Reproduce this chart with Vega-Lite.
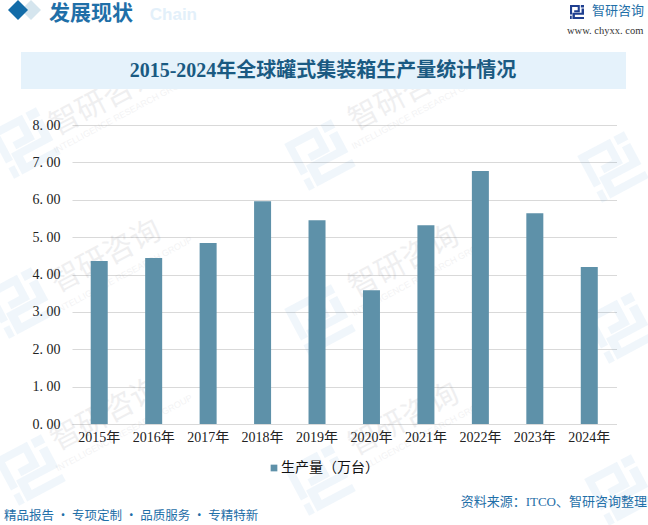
{
  "$schema": "https://vega.github.io/schema/vega-lite/v6.json",
  "width": 544.5,
  "height": 299,
  "autosize": "none",
  "padding": {"left": 72, "top": 125, "right": 31.5, "bottom": 101},
  "background": "#ffffff",
  "config": {"view": {"stroke": null}},
  "datasets": {
    "one": [{}],
    "production": [
      {"year": "2015年", "series": "生产量（万台）", "value": 4.36},
      {"year": "2016年", "series": "生产量（万台）", "value": 4.44},
      {"year": "2017年", "series": "生产量（万台）", "value": 4.84},
      {"year": "2018年", "series": "生产量（万台）", "value": 5.96},
      {"year": "2019年", "series": "生产量（万台）", "value": 5.45},
      {"year": "2020年", "series": "生产量（万台）", "value": 3.58},
      {"year": "2021年", "series": "生产量（万台）", "value": 5.32},
      {"year": "2022年", "series": "生产量（万台）", "value": 6.77},
      {"year": "2023年", "series": "生产量（万台）", "value": 5.64},
      {"year": "2024年", "series": "生产量（万台）", "value": 4.2}
    ]
  },
  "layer": [
    {"data": {"name": "one"}, "mark": {"type": "point", "filled": true, "opacity": 0.09, "color": "#5a9fd0", "size": 2800, "angle": -28, "x": -47, "y": 18, "shape": "M-1,-1H0.4V0.05H-0.4V-0.25H0.1V-0.7H-0.7V0.35H-1ZM0.55,-1H1V-0.65H0.55ZM0.65,-0.5H1V0.4H-0.3V0.7H1V1H-0.65V0.1H0.65ZM-1,0.55H-0.75V1H-1Z"}},
    {"data": {"name": "one"}, "mark": {"type": "point", "filled": true, "opacity": 0.09, "color": "#5a9fd0", "size": 2800, "angle": -28, "x": 248, "y": 30, "shape": "M-1,-1H0.4V0.05H-0.4V-0.25H0.1V-0.7H-0.7V0.35H-1ZM0.55,-1H1V-0.65H0.55ZM0.65,-0.5H1V0.4H-0.3V0.7H1V1H-0.65V0.1H0.65ZM-1,0.55H-0.75V1H-1Z"}},
    {"data": {"name": "one"}, "mark": {"type": "point", "filled": true, "opacity": 0.09, "color": "#5a9fd0", "size": 2800, "angle": -28, "x": 541, "y": 42, "shape": "M-1,-1H0.4V0.05H-0.4V-0.25H0.1V-0.7H-0.7V0.35H-1ZM0.55,-1H1V-0.65H0.55ZM0.65,-0.5H1V0.4H-0.3V0.7H1V1H-0.65V0.1H0.65ZM-1,0.55H-0.75V1H-1Z"}},
    {"data": {"name": "one"}, "mark": {"type": "point", "filled": true, "opacity": 0.09, "color": "#5a9fd0", "size": 2800, "angle": -28, "x": -52, "y": 178, "shape": "M-1,-1H0.4V0.05H-0.4V-0.25H0.1V-0.7H-0.7V0.35H-1ZM0.55,-1H1V-0.65H0.55ZM0.65,-0.5H1V0.4H-0.3V0.7H1V1H-0.65V0.1H0.65ZM-1,0.55H-0.75V1H-1Z"}},
    {"data": {"name": "one"}, "mark": {"type": "point", "filled": true, "opacity": 0.09, "color": "#5a9fd0", "size": 2800, "angle": -28, "x": 248, "y": 195, "shape": "M-1,-1H0.4V0.05H-0.4V-0.25H0.1V-0.7H-0.7V0.35H-1ZM0.55,-1H1V-0.65H0.55ZM0.65,-0.5H1V0.4H-0.3V0.7H1V1H-0.65V0.1H0.65ZM-1,0.55H-0.75V1H-1Z"}},
    {"data": {"name": "one"}, "mark": {"type": "point", "filled": true, "opacity": 0.09, "color": "#5a9fd0", "size": 2800, "angle": -28, "x": 548, "y": 203, "shape": "M-1,-1H0.4V0.05H-0.4V-0.25H0.1V-0.7H-0.7V0.35H-1ZM0.55,-1H1V-0.65H0.55ZM0.65,-0.5H1V0.4H-0.3V0.7H1V1H-0.65V0.1H0.65ZM-1,0.55H-0.75V1H-1Z"}},
    {"data": {"name": "one"}, "mark": {"type": "point", "filled": true, "opacity": 0.09, "color": "#5a9fd0", "size": 2800, "angle": -28, "x": -42, "y": 345, "shape": "M-1,-1H0.4V0.05H-0.4V-0.25H0.1V-0.7H-0.7V0.35H-1ZM0.55,-1H1V-0.65H0.55ZM0.65,-0.5H1V0.4H-0.3V0.7H1V1H-0.65V0.1H0.65ZM-1,0.55H-0.75V1H-1Z"}},
    {"data": {"name": "one"}, "mark": {"type": "point", "filled": true, "opacity": 0.09, "color": "#5a9fd0", "size": 2800, "angle": -28, "x": 248, "y": 355, "shape": "M-1,-1H0.4V0.05H-0.4V-0.25H0.1V-0.7H-0.7V0.35H-1ZM0.55,-1H1V-0.65H0.55ZM0.65,-0.5H1V0.4H-0.3V0.7H1V1H-0.65V0.1H0.65ZM-1,0.55H-0.75V1H-1Z"}},
    {"data": {"name": "one"}, "mark": {"type": "point", "filled": true, "opacity": 0.09, "color": "#5a9fd0", "size": 2800, "angle": -28, "x": 548, "y": 365, "shape": "M-1,-1H0.4V0.05H-0.4V-0.25H0.1V-0.7H-0.7V0.35H-1ZM0.55,-1H1V-0.65H0.55ZM0.65,-0.5H1V0.4H-0.3V0.7H1V1H-0.65V0.1H0.65ZM-1,0.55H-0.75V1H-1Z"}},
    {"data": {"name": "one"}, "mark": {"type": "text", "text": "智研咨询", "font": "Noto Sans CJK SC", "fontSize": 30, "opacity": 0.1, "color": "#6b6b78", "angle": -28, "align": "center", "baseline": "middle", "x": 33, "y": -25}},
    {"data": {"name": "one"}, "mark": {"type": "text", "text": "智研咨询", "font": "Noto Sans CJK SC", "fontSize": 30, "opacity": 0.1, "color": "#6b6b78", "angle": -28, "align": "center", "baseline": "middle", "x": 332, "y": -30}},
    {"data": {"name": "one"}, "mark": {"type": "text", "text": "智研咨询", "font": "Noto Sans CJK SC", "fontSize": 30, "opacity": 0.1, "color": "#6b6b78", "angle": -28, "align": "center", "baseline": "middle", "x": 34, "y": 132}},
    {"data": {"name": "one"}, "mark": {"type": "text", "text": "智研咨询", "font": "Noto Sans CJK SC", "fontSize": 30, "opacity": 0.1, "color": "#6b6b78", "angle": -28, "align": "center", "baseline": "middle", "x": 332, "y": 137}},
    {"data": {"name": "one"}, "mark": {"type": "text", "text": "智研咨询", "font": "Noto Sans CJK SC", "fontSize": 30, "opacity": 0.1, "color": "#6b6b78", "angle": -28, "align": "center", "baseline": "middle", "x": 34, "y": 290}},
    {"data": {"name": "one"}, "mark": {"type": "text", "text": "智研咨询", "font": "Noto Sans CJK SC", "fontSize": 30, "opacity": 0.1, "color": "#6b6b78", "angle": -28, "align": "center", "baseline": "middle", "x": 332, "y": 295}},
    {"data": {"name": "one"}, "mark": {"type": "text", "text": "INTELLIGENCE RESEARCH GROUP", "font": "Liberation Sans", "fontSize": 9, "opacity": 0.08, "color": "#6b6b78", "angle": -28, "align": "center", "baseline": "middle", "x": 50, "y": -10}},
    {"data": {"name": "one"}, "mark": {"type": "text", "text": "INTELLIGENCE RESEARCH GROUP", "font": "Liberation Sans", "fontSize": 9, "opacity": 0.08, "color": "#6b6b78", "angle": -28, "align": "center", "baseline": "middle", "x": 348, "y": -14}},
    {"data": {"name": "one"}, "mark": {"type": "text", "text": "INTELLIGENCE RESEARCH GROUP", "font": "Liberation Sans", "fontSize": 9, "opacity": 0.08, "color": "#6b6b78", "angle": -28, "align": "center", "baseline": "middle", "x": 52, "y": 150}},
    {"data": {"name": "one"}, "mark": {"type": "text", "text": "INTELLIGENCE RESEARCH GROUP", "font": "Liberation Sans", "fontSize": 9, "opacity": 0.08, "color": "#6b6b78", "angle": -28, "align": "center", "baseline": "middle", "x": 348, "y": 153}},
    {"data": {"name": "one"}, "mark": {"type": "text", "text": "INTELLIGENCE RESEARCH GROUP", "font": "Liberation Sans", "fontSize": 9, "opacity": 0.08, "color": "#6b6b78", "angle": -28, "align": "center", "baseline": "middle", "x": 52, "y": 308}},
    {"data": {"name": "one"}, "mark": {"type": "text", "text": "INTELLIGENCE RESEARCH GROUP", "font": "Liberation Sans", "fontSize": 9, "opacity": 0.08, "color": "#6b6b78", "angle": -28, "align": "center", "baseline": "middle", "x": 348, "y": 312}},
    {"data": {"name": "one"}, "mark": {"type": "rect", "color": "#e5f2fb", "x": -51, "x2": 554, "y": -73, "y2": -36}},
    {"data": {"name": "one"}, "mark": {"type": "rule", "color": "#1f5f8b", "strokeWidth": 1, "x": -70, "x2": 485, "y": -94, "y2": -94}, "encoding": {}},
    {"data": {"name": "one"}, "mark": {"type": "rule", "color": "#2a74a8", "strokeWidth": 1, "x": -70, "x2": 345, "y": 377, "y2": 377}, "encoding": {}},
    {"data": {"name": "one"}, "mark": {"type": "point", "shape": "diamond", "filled": true, "opacity": 1, "color": "#d5e5ee", "size": 400, "x": -41, "y": -115}},
    {"data": {"name": "one"}, "mark": {"type": "point", "shape": "diamond", "filled": true, "opacity": 1, "color": "#136ca8", "size": 400, "x": -54, "y": -115}},
    {"data": {"name": "one"}, "mark": {"type": "text", "text": "Chain", "font": "Liberation Sans", "fontSize": 17, "fontWeight": "bold", "color": "#e3f0fa", "align": "right", "baseline": "middle", "x": 125, "y": -110}},
    {"data": {"name": "one"}, "mark": {"type": "text", "text": "发展现状", "font": "Noto Sans CJK SC", "fontSize": 21, "fontWeight": "bold", "color": "#1f6fa8", "align": "left", "baseline": "middle", "x": -23, "y": -111.5}},
    {"data": {"name": "one"}, "mark": {"type": "point", "filled": true, "opacity": 1, "color": "#1f3f8f", "size": 196, "x": 505, "y": -113, "shape": "M-1,-1H0.4V0.05H-0.4V-0.25H0.1V-0.7H-0.7V0.35H-1ZM0.55,-1H1V-0.65H0.55ZM0.65,-0.5H1V0.4H-0.3V0.7H1V1H-0.65V0.1H0.65ZM-1,0.55H-0.75V1H-1Z"}},
    {"data": {"name": "one"}, "mark": {"type": "text", "text": "智研咨询", "font": "Noto Sans CJK SC", "fontSize": 13, "color": "#1f6fa8", "align": "left", "baseline": "middle", "x": 520, "y": -114}},
    {"data": {"name": "one"}, "mark": {"type": "text", "text": "www. chyxx. com", "font": "Liberation Serif", "fontSize": 10.5, "color": "#333333", "align": "left", "baseline": "middle", "x": 495, "y": -94}},
    {"data": {"name": "one"}, "mark": {"type": "text", "text": "2015-2024年全球罐式集装箱生产量统计情况", "font": "Liberation Serif, Noto Sans CJK SC", "fontSize": 20, "fontWeight": "bold", "color": "#1a5a82", "align": "center", "baseline": "middle", "x": 251, "y": -54}},
    {"data": {"name": "one"}, "mark": {"type": "text", "text": "精品报告 · 专项定制 · 品质服务 · 专精特新", "font": "Noto Sans CJK SC", "fontSize": 12.5, "color": "#1f6fa8", "align": "left", "baseline": "middle", "x": -68, "y": 391}},
    {"data": {"name": "one"}, "mark": {"type": "text", "text": "资料来源：ITCO、智研咨询整理", "font": "Liberation Serif, Noto Sans CJK SC", "fontSize": 13, "color": "#1f6fa8", "align": "right", "baseline": "middle", "x": 575, "y": 377}},
    {
      "data": {"name": "production"},
      "mark": {"type": "bar", "width": 17},
      "encoding": {
        "x": {
          "field": "year",
          "type": "nominal",
          "sort": null,
          "scale": {"paddingInner": 0, "paddingOuter": 0},
          "axis": {
            "title": null,
            "labelAngle": 0,
            "labelFont": "Liberation Serif, Noto Sans CJK SC",
            "labelFontSize": 14,
            "labelColor": "#222222",
            "labelPadding": 6,
            "ticks": false,
            "domainColor": "#d9d9d9",
            "domainWidth": 1,
            "grid": false
          }
        },
        "y": {
          "field": "value",
          "type": "quantitative",
          "scale": {"domain": [0, 8], "nice": false},
          "axis": {
            "title": null,
            "values": [0, 1, 2, 3, 4, 5, 6, 7, 8],
            "labelExpr": "replace(format(datum.value, '.2f'), '.', '. ')",
            "labelFont": "Liberation Serif",
            "labelFontSize": 14,
            "labelColor": "#222222",
            "labelPadding": 12,
            "ticks": false,
            "domain": false,
            "grid": true,
            "gridColor": "#d9d9d9",
            "gridWidth": 1
          }
        },
        "color": {
          "field": "series",
          "type": "nominal",
          "scale": {"range": ["#5e91a9"]},
          "legend": {
            "title": null,
            "orient": "none",
            "legendX": 195,
            "legendY": 336,
            "symbolType": "square",
            "symbolSize": 45,
            "labelFont": "Noto Sans CJK SC",
            "labelFontSize": 14,
            "labelColor": "#111111",
            "labelOffset": 0
          }
        }
      }
    }
  ]
}
